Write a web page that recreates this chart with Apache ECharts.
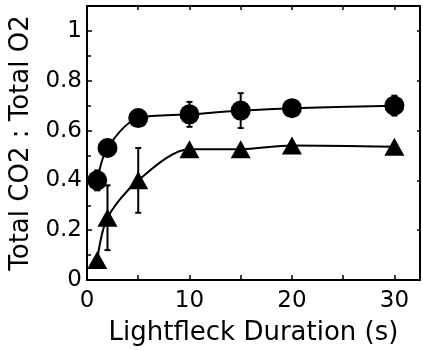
<!DOCTYPE html>
<html>
<head>
<meta charset="utf-8">
<script src="https://cdn.jsdelivr.net/npm/echarts@6/dist/echarts.min.js"></script>
<style>
html,body{margin:0;padding:0;background:#fff;}
#chart{width:423px;height:351px;}
</style>
</head>
<body>
<div id="chart"></div>
<script>
// Lightfleck duration (s)
var durations = [1, 2, 5, 10, 15, 20, 30];
// Circles series
var circleValues = [0.40, 0.53, 0.65, 0.665, 0.68, 0.69, 0.70];
var circleErr    = [0.04, 0.00, 0.02, 0.05, 0.07, 0.02, 0.04];
// Triangles series
var triangleValues = [0.08, 0.25, 0.40, 0.525, 0.525, 0.54, 0.535];
var triangleErr    = [0.00, 0.13, 0.13, 0.00, 0.00, 0.00, 0.00];
// Tick labels
var xTickLabels = ['0', '10', '20', '30'];
var yTickLabels = ['0', '0.2', '0.4', '0.6', '0.8', '1'];

var FONT = 'DejaVu Sans';

function pairs(xs, ys) { return xs.map(function (x, i) { return [x, ys[i]]; }); }
function errData(xs, ys, es) {
  var out = [];
  xs.forEach(function (x, i) { if (es[i] > 0) out.push([x, ys[i] - es[i], ys[i] + es[i]]); });
  return out;
}
function errRender(params, api) {
  var x = api.value(0), lo = api.value(1), hi = api.value(2);
  var p1 = api.coord([x, lo]), p2 = api.coord([x, hi]);
  var cap = 3;
  var st = { stroke: '#000', lineWidth: 2 };
  return {
    type: 'group',
    children: [
      { type: 'line', shape: { x1: p1[0], y1: p1[1], x2: p2[0], y2: p2[1] }, style: st },
      { type: 'line', shape: { x1: p1[0] - cap, y1: p1[1], x2: p1[0] + cap, y2: p1[1] }, style: st },
      { type: 'line', shape: { x1: p2[0] - cap, y1: p2[1], x2: p2[0] + cap, y2: p2[1] }, style: st }
    ]
  };
}

var chart = echarts.init(document.getElementById('chart'), null, { renderer: 'canvas' });
var axisLine = { show: true, onZero: false, lineStyle: { color: '#000', width: 2 } };
chart.setOption({
  animation: false,
  backgroundColor: '#fff',
  grid: { left: 87, right: 2, top: 6, bottom: 71, containLabel: false },
  xAxis: [{
    type: 'value', position: 'bottom', min: 0, max: 32.5, interval: 5,
    axisLine: axisLine,
    axisTick: { show: true, inside: true, length: 5, lineStyle: { color: '#000', width: 1.5 } },
    axisLabel: {
      color: '#000', fontFamily: FONT, fontSize: 23, margin: 10,
      formatter: function (v) { var s = String(v); return xTickLabels.indexOf(s) >= 0 ? s : ''; }
    },
    splitLine: { show: false },
    name: 'Lightfleck Duration (s)', nameLocation: 'middle', nameGap: 40,
    nameTextStyle: { color: '#000', fontFamily: FONT, fontSize: 26 }
  }, {
    type: 'value', position: 'top', min: 0, max: 32.5, interval: 5,
    axisLine: axisLine,
    axisTick: { show: true, inside: true, length: 4, lineStyle: { color: '#000', width: 1.5 } },
    axisLabel: { show: false }, splitLine: { show: false }
  }],
  yAxis: [{
    type: 'value', position: 'left', min: 0, max: 1.1, interval: 0.2,
    axisLine: axisLine,
    axisTick: { show: true, inside: true, length: 5, lineStyle: { color: '#000', width: 1.5 } },
    minorTick: { show: true, splitNumber: 2, length: 4, lineStyle: { color: '#000', width: 1.5 } },
    axisLabel: {
      color: '#000', fontFamily: FONT, fontSize: 23, margin: 5,
      formatter: function (v) { var s = String(+v.toFixed(2)); return yTickLabels.indexOf(s) >= 0 ? s : ''; }
    },
    splitLine: { show: false },
    name: 'Total CO2 : Total O2', nameLocation: 'middle', nameGap: 50,
    nameTextStyle: { color: '#000', fontFamily: FONT, fontSize: 26 }
  }, {
    type: 'value', position: 'right', min: 0, max: 1.1, interval: 0.2,
    axisLine: axisLine,
    axisTick: { show: true, inside: true, length: 3, lineStyle: { color: '#000', width: 1.5 } },
    axisLabel: { show: false }, splitLine: { show: false }
  }],
  series: [{
    type: 'custom', renderItem: errRender, data: errData(durations, circleValues, circleErr),
    encode: { x: 0, y: [1, 2] }, z: 1, silent: true
  }, {
    type: 'custom', renderItem: errRender, data: errData(durations, triangleValues, triangleErr),
    encode: { x: 0, y: [1, 2] }, z: 1, silent: true
  }, {
    type: 'line', data: pairs(durations, circleValues), smooth: 0.3,
    symbol: 'circle', symbolSize: 20, showAllSymbol: true,
    lineStyle: { color: '#000', width: 2 }, itemStyle: { color: '#000', borderWidth: 0 }, z: 3
  }, {
    type: 'line', data: pairs(durations, triangleValues), smooth: 0.3,
    symbol: 'triangle', symbolSize: [20, 18], showAllSymbol: true,
    lineStyle: { color: '#000', width: 2 }, itemStyle: { color: '#000', borderWidth: 0 }, z: 3
  }]
});
</script>
</body>
</html>
